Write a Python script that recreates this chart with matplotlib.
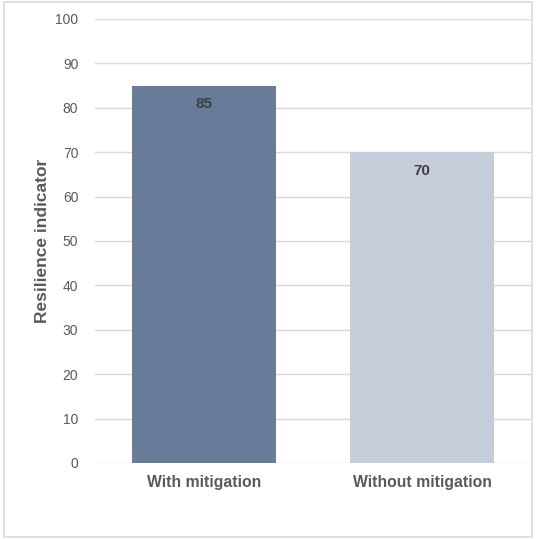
import matplotlib
matplotlib.use("Agg")
import matplotlib.pyplot as plt
from matplotlib.patches import Rectangle

categories = ["With mitigation", "Without mitigation"]
values = [85, 70]
bar_colors = ["#687c9a", "#c4cdd9"]
y_ticks = [0, 10, 20, 30, 40, 50, 60, 70, 80, 90, 100]

plt.rcParams["font.family"] = ["Liberation Sans", "DejaVu Sans"]

W, H = 536, 539
fig = plt.figure(figsize=(W / 100, H / 100), dpi=100)

# outer frame
fig.patches.append(Rectangle((4 / W, 2 / H), 528 / W, 535 / H, transform=fig.transFigure,
                             fill=False, edgecolor="#d9d9d9", linewidth=1.2))

ax = fig.add_axes([95 / W, 1 - 463 / H, 436 / W, 444 / H])
x = list(range(len(categories)))
bars = ax.bar(x, values, width=0.66, color=bar_colors, zorder=3)

ax.set_xlim(-0.5, 1.5)
ax.set_ylim(0, 100)
ax.set_yticks(y_ticks)
ax.set_yticklabels([str(t) for t in y_ticks], color="#595959", fontsize=10)
ax.set_xticks(x)
ax.set_xticklabels(categories, fontsize=11.3, fontweight="bold", color="#595959")
ax.tick_params(axis="y", length=0, pad=12)
ax.tick_params(axis="x", length=0, pad=9)
ax.grid(axis="y", color="#d9d9d9", linewidth=1, zorder=0)
for s in ax.spines.values():
    s.set_visible(False)

ax.set_ylabel("Resilience indicator", fontsize=12.5, fontweight="bold", color="#595959", labelpad=4)

for xi, v in zip(x, values):
    ax.annotate(f"{v}", (xi, v), xytext=(0, -13.5), textcoords="offset points",
                ha="center", va="center", fontsize=11, fontweight="bold", color="#404040", zorder=4)

fig.savefig("out.png", dpi=100)
